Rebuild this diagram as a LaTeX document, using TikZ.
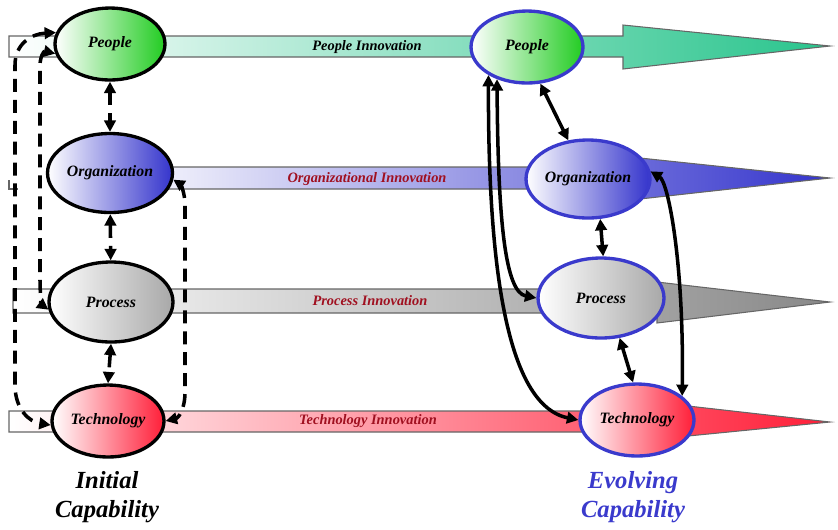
\documentclass[tikz,border=0pt]{standalone}
\usepackage{fontspec}
\setmainfont{Liberation Serif}
\usepackage{tikz}
\usetikzlibrary{arrows.meta,shapes.geometric}

\definecolor{pgreen}{RGB}{34,204,34}
\definecolor{pteal}{RGB}{40,196,140}
\definecolor{oblue}{RGB}{52,52,204}
\definecolor{pgray}{RGB}{136,136,136}
\definecolor{egray}{RGB}{168,168,168}
\definecolor{tred}{RGB}{255,30,56}
\definecolor{ered}{RGB}{160,16,32}
\definecolor{eblue}{RGB}{58,58,204}

\begin{document}
\begin{tikzpicture}[x=0.02cm, y=-0.02cm, >={Triangle[length=6.5pt,width=6.5pt]},
  startell/.style={ellipse, draw=black, line width=1.9pt, inner sep=0pt,
    font=\fontsize{9}{10}\selectfont\bfseries\itshape},
  evolell/.style={startell, draw=eblue},
  band/.style={draw=black!60, line width=0.6pt},
  innov/.style={font=\fontsize{8.2}{10}\selectfont\bfseries\itshape, text=ered},
  dlink/.style={<->, line width=2pt, dash pattern=on 7.4pt off 4.5pt},
  slink/.style={<->, line width=2pt},
  captxt/.style={align=center, font=\fontsize{14}{16.4}\selectfont\bfseries\itshape}]
\useasboundingbox (0,0) rectangle (838,529);
% ленты
\draw[band, left color=white, right color=pteal]
  (9,36) -- (623,36) -- (623,25) -- (830,46) -- (623,69) -- (623,57) -- (9,57) -- cycle;
\draw[band, left color=white, right color=oblue]
  (110,167) -- (640,167) -- (640,158) -- (830,178) -- (640,199) -- (640,189) -- (110,189) -- cycle;
\draw[band] (9,180) -- (9,189) -- (18,189);
\draw[band, left color=white, right color=pgray]
  (13,289) -- (657,289) -- (657,282) -- (830,302) -- (657,323) -- (657,313) -- (13,313) -- cycle;
\draw[band, left color=white, right color=tred]
  (9,411) -- (688,411) -- (688,406) -- (830,422) -- (688,436) -- (688,432) -- (9,432) -- cycle;
% подписи лент
\node[innov, text=black] (pinn) at (367,47) {People Innovation};
\node[innov] (oinn) at (367,179) {Organizational Innovation};
\node[innov] (rinn) at (370,301) {Process Innovation};
\node[innov] (tinn) at (368,421) {Technology Innovation};
% исходные
\node[startell, minimum width=2.2cm, minimum height=1.44cm, left color=white, right color=pgreen] (pl) at (110,44) {People};
\node[startell, minimum width=2.5cm, minimum height=1.58cm, left color=white, right color=oblue] (ol) at (110,173) {Organization};
\node[startell, minimum width=2.48cm, minimum height=1.6cm, left color=white, right color=egray] (rl) at (111,302) {Process};
\node[startell, minimum width=2.24cm, minimum height=1.44cm, left color=white, right color=tred] (tl) at (108,421) {Technology};
% развивающиеся
\node[evolell, minimum width=2.24cm, minimum height=1.44cm, left color=white, right color=pgreen] (pr) at (527,47) {People};
\node[evolell, minimum width=2.48cm, minimum height=1.56cm, left color=white, right color=oblue] (or) at (588,179) {Organization};
\node[evolell, minimum width=2.52cm, minimum height=1.6cm, left color=white, right color=egray] (rr) at (601,298) {Process};
\node[evolell, minimum width=2.28cm, minimum height=1.44cm, left color=white, right color=tred] (tr) at (637,420) {Technology};
% связи слева
\draw[dlink] (pl) -- (ol);
\draw[dlink] (ol) -- (rl);
\draw[dlink] (rl.south) -- (tl.north);
\draw[dlink] (pl.168) .. controls (30,34) and (15,45) .. (15,65) -- (15,385)
  .. controls (15,410) and (30,422) .. (tl.184);
\draw[dlink] (pl.190) .. controls (44,51) and (40,56) .. (40,66) -- (40,280)
  .. controls (40,296) and (42,305) .. (rl.187);
\draw[dlink] (ol.354) .. controls (180,184) and (185,192) .. (185,205) -- (185,392)
  .. controls (185,410) and (178,418) .. (tl.east);
% связи справа
\draw[slink] (pr.290) -- (or.117);
\draw[slink] (or.287) -- (rr.87);
\draw[slink] (rr.295) -- (tr.96);
\draw[slink] (or.7) .. controls (668,182) and (684,260) .. (tr.28);
\draw[slink] (pr.227) .. controls (498,220) and (505,292) .. (rr.west);
\draw[slink] (pr.216) .. controls (488,260) and (505,405) .. (tr.west);
% подписи
\node[captxt] (icap) at (107,497) {Initial\\Capability};
\node[captxt, text=eblue] (ecap) at (633,497) {Evolving\\Capability};
\end{tikzpicture}
\end{document}
